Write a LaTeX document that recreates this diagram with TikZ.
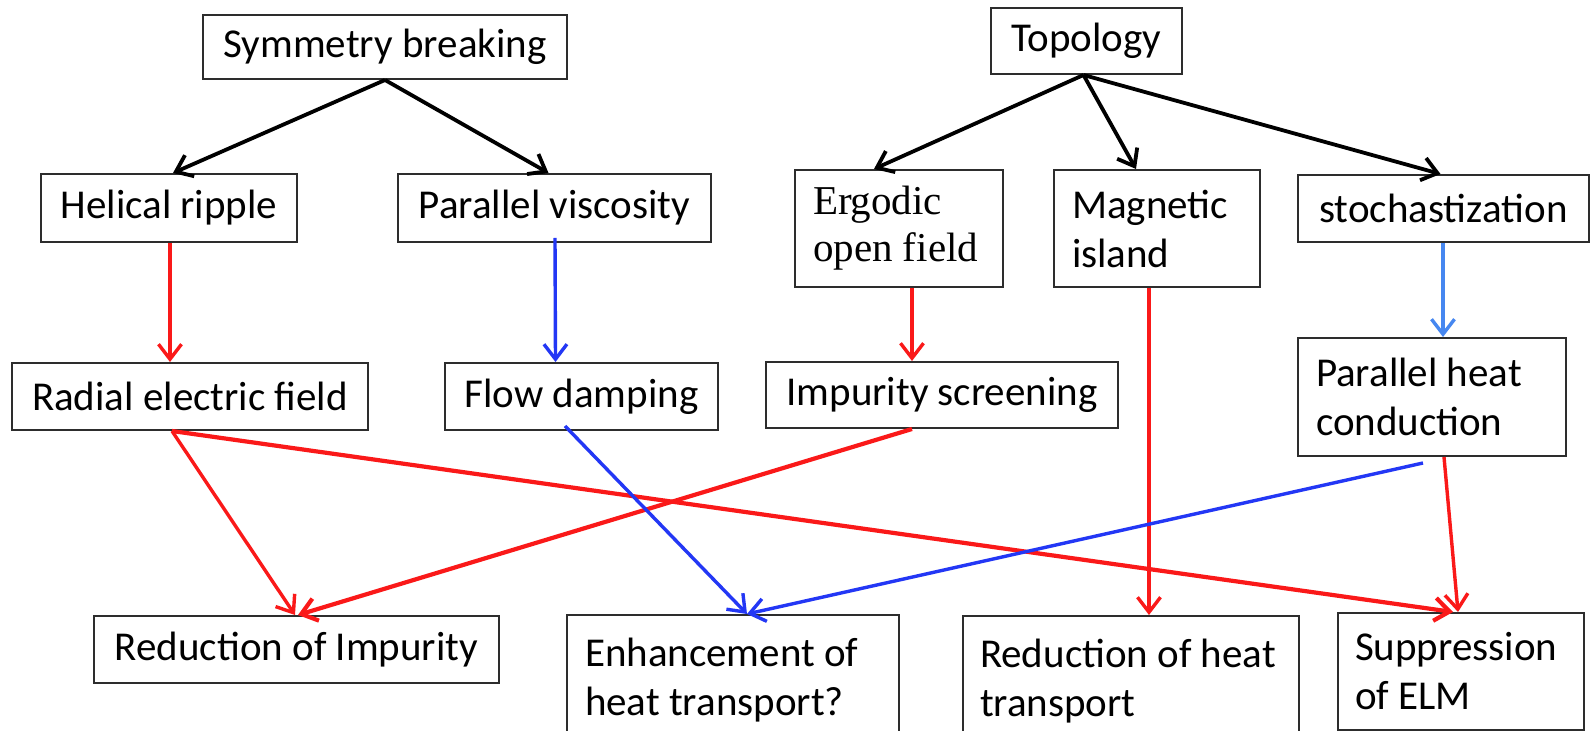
\documentclass[tikz,border=0pt]{standalone}
\usepackage{fontspec}
\usetikzlibrary{arrows.meta,calc}
\newfontfamily\calfont{Carlito}
\newfontfamily\timesfont{Liberation Serif}
\definecolor{boxc}{RGB}{45,45,45}
\definecolor{myred}{RGB}{250,25,25}
\definecolor{myblue}{RGB}{35,55,245}
\definecolor{lblue}{RGB}{70,135,240}
\begin{document}
\begin{tikzpicture}[x=0.5pt,y=-0.5pt,
  box/.style={draw=boxc, line width=1pt, rectangle, inner sep=0pt,
    font=\calfont\fontsize{20.5pt}{24.5pt}\selectfont, align=center},
  mbox/.style={box, align=flush left, inner xsep=9pt, inner ysep=0pt},
  arr/.style={line width=1.7pt, -{Straight Barb[length=7.5pt,width=11.5pt]}},
  blk/.style={arr, draw=black, line width=1.9pt},
  rd/.style={arr, draw=myred},
  bl/.style={arr, draw=myblue},
  lb/.style={arr, draw=lblue},
]
\useasboundingbox (0,0) rectangle (1591,731);
\clip (0,0) rectangle (1591,731);
\fill[white] (0,0) rectangle (1591,731);

% top row
\node[box, minimum width=182pt, minimum height=32pt] (sb) at (385,47) {Symmetry breaking};
\node[box, minimum width=95.5pt, minimum height=33pt] (top) at (1086.5,41) {Topology};

% second row
\node[box, minimum width=128pt, minimum height=34pt] (hel) at (169,208) {Helical ripple};
\node[box, minimum width=156.5pt, minimum height=34pt] (pv) at (554.5,208) {Parallel viscosity};
\node[mbox, minimum height=58.5pt, text width=86pt,
  font=\timesfont\fontsize{20.5pt}{23.5pt}\selectfont] (erg) at (899,228.5) {\mbox{Ergodic}\\\mbox{open field}};
\node[mbox, minimum height=58.5pt, text width=85pt] (mag) at (1157,228.5) {\mbox{Magnetic}\\\mbox{island}};
\node[box, minimum width=145.5pt, minimum height=33.5pt] (sto) at (1443.5,208.5) {stochastization};

% third row
\node[box, minimum width=178pt, minimum height=33.5pt] (rad) at (190,396.5) {Radial electric field};
\node[box, minimum width=136.5pt, minimum height=33.5pt] (fd) at (581.5,396.5) {Flow damping};
\node[box, minimum width=176pt, minimum height=33pt] (is) at (942,395) {Impurity screening};
\node[mbox, minimum height=59pt, text width=116pt] (ph) at (1432,397) {\mbox{Parallel heat}\\\mbox{conduction}};

% bottom row
\node[box, minimum width=202.5pt, minimum height=33.5pt] (roi) at (296.5,649.5) {Reduction of Impurity};
\node[mbox, minimum height=65pt, text width=148pt] (enh) at (733,680) {\mbox{Enhancement of}\\\mbox{heat transport?}};
\node[mbox, minimum height=65pt, text width=151pt, inner xsep=8.5pt] (roh) at (1131,681) {\mbox{Reduction of heat}\\\mbox{transport}};
\node[mbox, minimum height=58.5pt, text width=106pt, inner xsep=8.5pt] (sup) at (1461,671.5) {\mbox{Suppression}\\\mbox{of ELM}};

% black arrows
\draw[blk] (sb.south) -- ($(hel.north)+(4,0)$);
\draw[blk] (sb.south) -- ($(pv.north)+(-6,0)$);
\draw[blk] ($(top.south)+(-3,0)$) -- ($(erg.north)+(-25,0)$);
\draw[blk] ($(top.south)+(-3,0)$) -- ($(mag.north)+(-21,0)$);
\draw[blk] ($(top.south)+(-3,0)$) -- ($(sto.north)+(-3,0)$);

% vertical arrows
\draw[rd] ($(hel.south)+(1,0)$) -- ($(rad.north)+(-20,0)$);
\draw[bl] ($(pv.south)+(0.5,-5)$) -- ($(fd.north)+(-26,0)$);
\draw[rd] ($(erg.south)+(13,0)$) -- ($(is.north)+(-30,0)$);
\draw[rd] ($(mag.south)+(-8,0)$) -- ($(roh.north)+(18,0)$);
\draw[lb] ($(sto.south)+(-0.5,0)$) -- ($(ph.north)+(11,0)$);

% crossing arrows
\draw[rd] ($(rad.south)+(-18,0)$) -- ($(roi.north)+(-1.5,0)$);
\draw[rd, line width=2.1pt] ($(rad.south)+(-18,0)$) -- ($(sup.north)+(-8,0)$);
\draw[rd, line width=2.1pt] ($(is.south)+(-30,0)$) -- ($(roi.north)+(1.5,0)$);
\draw[bl] ($(fd.south)+(-16.5,-5)$) -- ($(enh.north)+(14,0)$);
\draw[bl] ($(ph.south)+(-9,6)$) -- ($(enh.north)+(14,0)$);
\draw[rd] ($(ph.south)+(12,0)$) -- ($(sup.north)+(-3,0)$);
\end{tikzpicture}
\end{document}
